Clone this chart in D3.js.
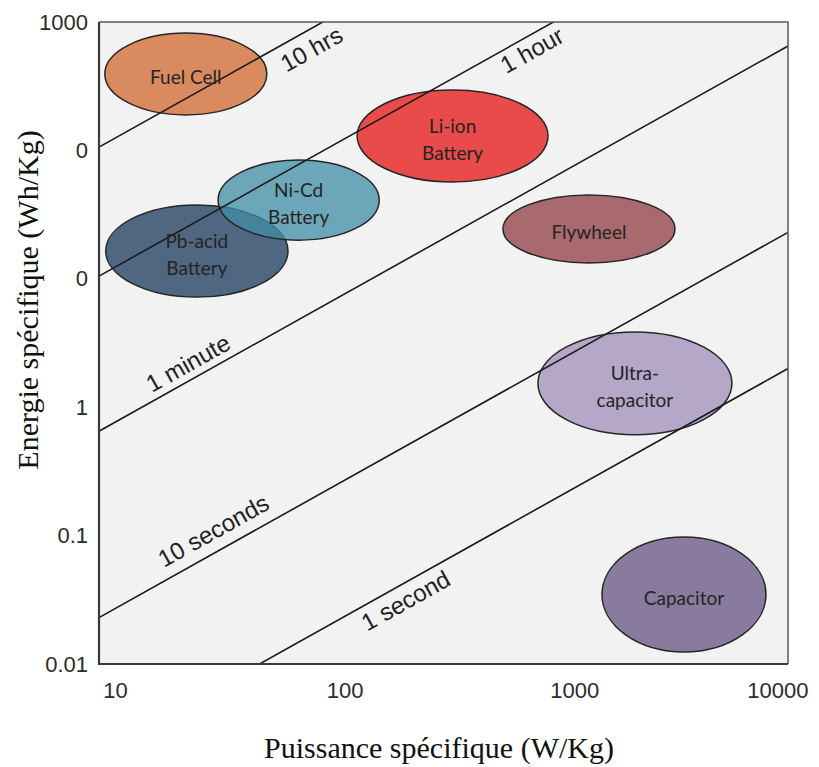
<!DOCTYPE html>
<html>
<head>
<meta charset="utf-8">
<script src="https://cdn.jsdelivr.net/npm/d3@7"></script>
<style>
  body { margin: 0; background: #fff; }
  svg { display: block; }
</style>
</head>
<body>
<svg id="chart" width="819" height="767"></svg>
<script>
// technologies (W/kg, Wh/kg)
const devices = ["Fuel Cell", "Pb-acid", "Ni-Cd", "Li-ion", "Flywheel", "Ultra-capacitor", "Capacitor"];
const deviceLabels = [["Fuel Cell"], ["Pb-acid", "Battery"], ["Ni-Cd", "Battery"], ["Li-ion", "Battery"],
                      ["Flywheel"], ["Ultra-", "capacitor"], ["Capacitor"]];
const powerMin  = [10.6, 10.7, 33,  133, 574,  815,  1549];
const powerMax  = [53.8, 66.5, 166, 902, 3220, 5700, 8020];
const energyMin = [189,  7.2,  20,  56.8, 13.3, 0.61, 0.0124];
const energyMax = [820,  37.6, 84,  295,  45,   3.86, 0.0975];

// constant discharge time lines: energy / power (h)
const timeLabels = ["10 hrs", "1 hour", "1 minute", "10 seconds", "1 second"];
const timeRatios = [10.6, 1.05, 0.065, 0.0023, 0.0002];
const timeLabelPower = [77, 716, 26.4, 34.7, 200];

const xTickValues = [10, 100, 1000, 10000];
const yTickValues = [1000, 100, 10, 1, 0.1, 0.01];
const yTickLabels = ["1000", "0", "0", "1", "0.1", "0.01"];

const deviceColors = ["#d98b5f", "#4f6781", "#3f8ea5", "#e94a4a", "#a86a6e", "#b4a7c8", "#887b9d"];
const deviceOpacity = [1, 1, 0.75, 1, 1, 1, 1];
// label side: +1 below the line, -1 above
const labelSide = [1, 1, -1, -1, 1];
const labelGap = [18, 14, 16, 20, 16];

const svg = d3.select("#chart");
const plotLeft = 99, plotRight = 788, plotTop = 22, plotBottom = 664;

const x = d3.scaleLog().domain([10, 10000]).range([plotLeft, plotRight]);
const y = d3.scaleLog().domain([0.01, 1000]).range([plotBottom, plotTop]);

svg.append("defs").append("clipPath").attr("id", "plotClip")
    .append("rect")
    .attr("x", plotLeft).attr("y", plotTop)
    .attr("width", plotRight - plotLeft).attr("height", plotBottom - plotTop);

// plot background
svg.append("rect")
    .attr("x", plotLeft).attr("y", plotTop)
    .attr("width", plotRight - plotLeft).attr("height", plotBottom - plotTop)
    .style("fill", "#f2f2f2");

const plot = svg.append("g").attr("clip-path", "url(#plotClip)");

// ellipses
const ellipses = devices.map((name, i) => {
    const x0 = x(powerMin[i]), x1 = x(powerMax[i]);
    const y0 = y(energyMax[i]), y1 = y(energyMin[i]);
    return {name, lines: deviceLabels[i], cx: (x0 + x1) / 2, cy: (y0 + y1) / 2,
            rx: (x1 - x0) / 2, ry: (y1 - y0) / 2, color: deviceColors[i], opacity: deviceOpacity[i]};
});

plot.selectAll("ellipse.device")
    .data(ellipses)
    .join("ellipse")
    .attr("class", "device")
    .attr("cx", d => d.cx).attr("cy", d => d.cy)
    .attr("rx", d => d.rx).attr("ry", d => d.ry)
    .style("fill", d => d.color)
    .style("fill-opacity", d => d.opacity)
    .style("stroke", "#262626")
    .style("stroke-width", 1.5);

// time lines
const lineGen = d3.line().x(d => x(d[0])).y(d => y(d[1]));
plot.selectAll("path.time")
    .data(timeRatios)
    .join("path")
    .attr("class", "time")
    .attr("d", k => lineGen([[10, 10 * k], [10000, 10000 * k]]))
    .style("fill", "none")
    .style("stroke", "#1a1a1a")
    .style("stroke-width", 1.6);

// ellipse labels
ellipses.forEach(d => {
    const t = svg.append("text")
        .attr("x", d.cx)
        .attr("y", d.cy + 2 - (d.lines.length - 1) * 13.5)
        .attr("text-anchor", "middle")
        .attr("dominant-baseline", "central")
        .style("font-family", "Lato, 'Open Sans', sans-serif")
        .style("font-size", "19px")
        .style("fill", "#242424");
    d.lines.forEach((line, j) => {
        t.append("tspan")
            .attr("x", d.cx)
            .attr("dy", j === 0 ? 0 : 27)
            .text(line);
    });
});

// time line labels
timeLabels.forEach((label, i) => {
    const k = timeRatios[i];
    const p = timeLabelPower[i];
    const px = x(p), py = y(p * k);
    const angle = Math.atan2(y(10000 * k) - y(10 * k), x(10000) - x(10)) * 180 / Math.PI;
    svg.append("text")
        .attr("transform", `translate(${px},${py}) rotate(${angle})`)
        .attr("y", labelSide[i] * labelGap[i])
        .attr("text-anchor", "middle")
        .attr("dominant-baseline", "central")
        .style("font-family", "'Liberation Sans', Arial, sans-serif")
        .style("font-size", "24px")
        .style("fill", "#222")
        .text(label);
});

// frame
svg.append("path")
    .attr("d", `M${plotLeft},${plotTop}H${plotRight}V${plotBottom}`)
    .style("fill", "none")
    .style("stroke", "#5a5a5a")
    .style("stroke-width", 1.5);
svg.append("path")
    .attr("d", `M${plotLeft},${plotTop}V${plotBottom}H${plotRight}`)
    .style("fill", "none")
    .style("stroke", "#3a3a3a")
    .style("stroke-width", 2.2);

// axes
const yAxis = svg.append("g")
    .attr("transform", `translate(${plotLeft},0)`)
    .call(d3.axisLeft(y).tickValues(yTickValues)
        .tickFormat((d, i) => yTickLabels[i]).tickSize(0).tickPadding(11));
const xAxis = svg.append("g")
    .attr("transform", `translate(0,${plotBottom})`)
    .call(d3.axisBottom(x).tickValues(xTickValues)
        .tickFormat(d => String(d)).tickSize(0).tickPadding(18));

[yAxis, xAxis].forEach(g => {
    g.select(".domain").remove();
    g.selectAll("text")
        .style("font-family", "'Liberation Sans', Arial, sans-serif")
        .style("font-size", "22px")
        .style("fill", "#2b2b2b");
});
xAxis.selectAll("text").attr("dx", 16);
xAxis.selectAll("text").filter(d => d === 10000)
    .attr("text-anchor", "end").attr("dx", 20);

// axis titles
svg.append("text")
    .attr("x", 439).attr("y", 758)
    .attr("text-anchor", "middle")
    .style("font-family", "'Liberation Serif', 'Times New Roman', serif")
    .style("font-size", "30px")
    .style("fill", "#111")
    .text("Puissance spécifique (W/Kg)");

svg.append("text")
    .attr("transform", "translate(38,300) rotate(-90)")
    .attr("text-anchor", "middle")
    .style("font-family", "'Liberation Serif', 'Times New Roman', serif")
    .style("font-size", "30px")
    .style("fill", "#111")
    .text("Energie spécifique (Wh/Kg)");
</script>
</body>
</html>
